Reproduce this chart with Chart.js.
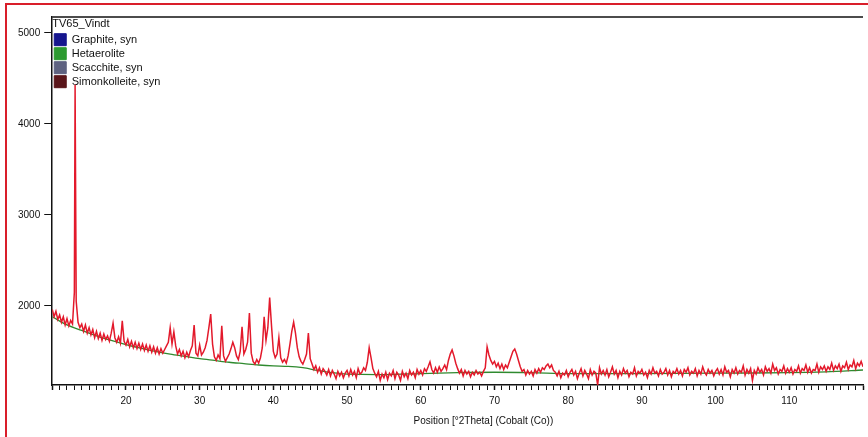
<!DOCTYPE html>
<html>
<head>
<meta charset="utf-8">
<script src="https://cdn.jsdelivr.net/npm/chart.js@4"></script>
<style>
 html,body{margin:0;padding:0;background:#fff;overflow:hidden}
 #wrap{position:relative;width:868px;height:437px}
 #frame{position:absolute;left:5px;top:3px;width:900px;height:500px;border-left:2px solid #d91e2a;border-top:2px solid #d91e2a}
 canvas{position:absolute;left:0;top:0}
</style>
</head>
<body>
<div id="wrap">
<div id="frame"></div>
<canvas id="xrd" width="868" height="437"></canvas>
</div>
<script>

const twoTheta = [
 10,10.25,10.5,10.75,11,11.25,11.5,11.75,12,12.25,12.5,12.75,13,13.1,13.25,13.5,13.75,14,14.25,14.5,14.75,
 15,15.25,15.5,15.75,16,16.25,16.5,16.75,17,17.25,17.5,17.75,18,18.25,18.5,18.75,19,19.25,19.5,19.75,
 20,20.25,20.5,20.75,21,21.25,21.5,21.75,22,22.25,22.5,22.75,23,23.25,23.5,23.75,24,24.25,24.5,24.75,
 25,25.25,25.5,25.75,26,26.25,26.5,26.75,27,27.25,27.5,27.75,28,28.25,28.5,28.75,29,29.25,29.5,29.75,
 30,30.25,30.5,30.75,31,31.25,31.5,31.75,32,32.25,32.5,32.75,33,33.25,33.5,33.75,34,34.25,34.5,34.75,
 35,35.25,35.5,35.75,36,36.25,36.5,36.75,37,37.25,37.5,37.75,38,38.25,38.5,38.75,39,39.25,39.5,39.75,
 40,40.25,40.5,40.75,41,41.25,41.5,41.75,42,42.25,42.5,42.75,43,43.25,43.5,43.75,44,44.25,44.5,44.75,
 45,45.25,45.5,45.75,46,46.25,46.5,46.75,47,47.25,47.5,47.75,48,48.25,48.5,48.75,49,49.25,49.5,49.75,
 50,50.25,50.5,50.75,51,51.25,51.5,51.75,52,52.25,52.5,52.75,53,53.25,53.5,53.75,54,54.25,54.5,54.75,
 55,55.25,55.5,55.75,56,56.25,56.5,56.75,57,57.25,57.5,57.75,58,58.25,58.5,58.75,59,59.25,59.5,59.75,
 60,60.25,60.5,60.75,61,61.25,61.5,61.75,62,62.25,62.5,62.75,63,63.25,63.5,63.75,64,64.25,64.5,64.75,
 65,65.25,65.5,65.75,66,66.25,66.5,66.75,67,67.25,67.5,67.75,68,68.25,68.5,68.75,69,69.25,69.5,69.75,
 70,70.25,70.5,70.75,71,71.25,71.5,71.75,72,72.25,72.5,72.75,73,73.25,73.5,73.75,74,74.25,74.5,74.75,
 75,75.25,75.5,75.75,76,76.25,76.5,76.75,77,77.25,77.5,77.75,78,78.25,78.5,78.75,79,79.25,79.5,79.75,
 80,80.25,80.5,80.75,81,81.25,81.5,81.75,82,82.25,82.5,82.75,83,83.25,83.5,83.75,84,84.25,84.5,84.75,
 85,85.25,85.5,85.75,86,86.25,86.5,86.75,87,87.25,87.5,87.75,88,88.25,88.5,88.75,89,89.25,89.5,89.75,
 90,90.25,90.5,90.75,91,91.25,91.5,91.75,92,92.25,92.5,92.75,93,93.25,93.5,93.75,94,94.25,94.5,94.75,
 95,95.25,95.5,95.75,96,96.25,96.5,96.75,97,97.25,97.5,97.75,98,98.25,98.5,98.75,99,99.25,99.5,99.75,
 100,100.25,100.5,100.75,101,101.25,101.5,101.75,102,102.25,102.5,102.75,103,103.25,103.5,103.75,104,104.25,104.5,104.75,
 105,105.25,105.5,105.75,106,106.25,106.5,106.75,107,107.25,107.5,107.75,108,108.25,108.5,108.75,109,109.25,109.5,109.75,
 110,110.25,110.5,110.75,111,111.25,111.5,111.75,112,112.25,112.5,112.75,113,113.25,113.5,113.75,114,114.25,114.5,114.75,
 115,115.25,115.5,115.75,116,116.25,116.5,116.75,117,117.25,117.5,117.75,118,118.25,118.5,118.75,119,119.25,119.5,119.75,
 120
]
const counts = [
 1960,1880,1940,1850,1900,1820,1880,1790,1860,1780,1840,1800,2150,4430,2050,1820,1760,1800,1720,1790,1700,
 1760,1680,1740,1650,1720,1640,1700,1620,1690,1630,1670,1610,1700,1810,1650,1600,1660,1590,1835,1610,
 1570,1630,1550,1610,1540,1600,1530,1590,1520,1580,1510,1570,1500,1560,1490,1550,1480,1540,1470,1530,
 1480,1520,1560,1600,1760,1580,1715,1560,1470,1520,1450,1500,1430,1490,1440,1510,1560,1790,1480,1450,
 1570,1460,1490,1540,1620,1760,1910,1580,1440,1400,1460,1420,1780,1450,1390,1430,1470,1530,1600,1540,
 1450,1410,1500,1770,1470,1520,1600,1920,1480,1390,1360,1410,1370,1430,1540,1880,1620,1760,2090,1780,
 1500,1430,1470,1650,1430,1380,1410,1370,1450,1580,1720,1820,1700,1540,1440,1390,1360,1410,1470,1700,
 1420,1360,1300,1340,1270,1320,1250,1310,1280,1240,1300,1230,1290,1250,1200,1280,1230,1270,1210,1260,
 1290,1230,1300,1240,1280,1210,1310,1250,1270,1320,1290,1380,1540,1430,1310,1260,1220,1280,1180,1250,
 1210,1270,1190,1260,1230,1290,1200,1270,1240,1180,1280,1220,1260,1200,1290,1240,1270,1210,1300,1250,
 1290,1240,1310,1280,1330,1385,1300,1260,1320,1270,1330,1280,1310,1350,1300,1400,1470,1515,1450,1370,
 1310,1260,1300,1230,1290,1250,1280,1220,1270,1240,1290,1250,1270,1230,1280,1320,1550,1460,1400,1360,
 1390,1330,1370,1310,1360,1300,1350,1320,1380,1440,1500,1525,1470,1400,1330,1280,1300,1240,1290,1250,
 1280,1230,1300,1260,1310,1270,1320,1300,1340,1360,1320,1350,1290,1270,1230,1280,1210,1260,1240,1290,
 1220,1270,1300,1240,1280,1200,1260,1310,1230,1290,1250,1200,1300,1240,1280,1260,1130,1320,1250,1290,
 1240,1300,1220,1270,1330,1250,1290,1210,1280,1240,1310,1260,1290,1220,1270,1250,1320,1230,1280,1260,
 1300,1240,1270,1210,1290,1250,1320,1260,1280,1230,1300,1250,1270,1310,1240,1290,1220,1280,1260,1310,
 1250,1290,1230,1300,1270,1320,1240,1280,1260,1310,1230,1290,1250,1330,1270,1240,1300,1260,1290,1230,
 1280,1310,1250,1300,1240,1330,1270,1290,1220,1300,1260,1320,1250,1290,1270,1340,1240,1300,1260,1310,
 1180,1290,1250,1320,1270,1300,1240,1330,1280,1310,1260,1360,1290,1320,1250,1300,1280,1340,1260,1310,
 1270,1320,1250,1300,1280,1340,1260,1310,1290,1350,1270,1320,1260,1300,1290,1360,1270,1330,1300,1340,
 1280,1330,1300,1370,1290,1340,1310,1360,1280,1340,1320,1380,1300,1350,1330,1400,1310,1370,1340,1390,
 1330
]

// fitted background
const bgTheta = [10,12,14,16,18,20,22,24,26,28,30,32,34,36,38,40,42,44,46,48,50,55,60,65,70,75,80,90,100,110,115,120]
const bgCounts = [1880,1790,1730,1670,1620,1575,1535,1500,1470,1445,1420,1400,1380,1365,1350,1340,1335,1320,1290,1265,1250,1245,1255,1265,1270,1265,1255,1255,1260,1265,1275,1295]

// identified phases, legend only
const sampleName = "TV65_Vindt"
const phaseNames = ["Graphite, syn","Hetaerolite","Scacchite, syn","Simonkolleite, syn"]
const phaseColors = ["#16168e","#2c9a30","#5e6280","#5a161a"]

const xTitle = "Position [°2Theta] (Cobalt (Co))"
const yTicks = [2000,3000,4000,5000]
const xLabels = [20,30,40,50,60,70,80,90,100,110]

const font = "'Liberation Sans', Arial, sans-serif"

const scanPoints = twoTheta.map((t,i)=>({x:t,y:counts[i]}))
const bgPoints = bgTheta.map((t,i)=>({x:t,y:bgCounts[i]}))

const datasets = [
 {label:"scan",data:scanPoints,borderColor:"#e3192b",borderWidth:1.5,pointRadius:0,tension:0},
 {label:"background",data:bgPoints,borderColor:"#2f8a2f",borderWidth:1.3,pointRadius:0,tension:0.3}
]
phaseNames.forEach((n,i)=>{
 datasets.push({label:n,data:[],backgroundColor:phaseColors[i],borderColor:phaseColors[i],borderWidth:1})
})

// top frame line and axis title
const extras = {
 id:"extras",
 afterDraw(chart){
  const c = chart.ctx, a = chart.chartArea
  c.save()
  c.strokeStyle = "#111"
  c.lineWidth = 1.5
  c.beginPath()
  c.moveTo(a.left,a.top)
  c.lineTo(a.right,a.top)
  c.stroke()
  c.fillStyle = "#111"
  c.font = "10px " + font
  c.textAlign = "center"
  c.textBaseline = "middle"
  c.fillText(xTitle, chart.scales.x.getPixelForValue(68.5), a.bottom + 36)
  c.restore()
 }
}

new Chart(document.getElementById("xrd"),{
 type:"line",
 data:{datasets:datasets},
 plugins:[extras],
 options:{
  responsive:false,
  animation:false,
  events:[],
  layout:{padding:{left:14,top:17,right:2,bottom:25}},
  plugins:{
   tooltip:{enabled:false},
   legend:{
    position:"chartArea",
    align:"start",
    title:{display:true,text:sampleName,position:"start",color:"#111",font:{family:font,size:11},padding:{top:18.5,bottom:0}},
    labels:{
     boxWidth:12,boxHeight:12,padding:2,color:"#111",
     font:{family:font,size:11},
     filter:item=>phaseNames.includes(item.text)
    }
   }
  },
  scales:{
   x:{
    type:"linear",
    min:10,max:120,
    afterBuildTicks:s=>{ s.ticks = s.ticks.filter(t=>Number.isInteger(t.value)) },
    ticks:{
     stepSize:1,autoSkip:false,maxRotation:0,padding:5,color:"#111",
     font:{family:font,size:10},
     callback:v=>xLabels.includes(v) ? String(v) : ""
    },
    grid:{drawOnChartArea:false,color:"#111",tickLength:5,
     tickWidth:c=>c.tick && c.tick.value % 10 === 0 ? 1.5 : 1},
    border:{color:"#111",width:1.5}
   },
   y:{
    min:1130,max:5175,
    afterBuildTicks:s=>{ s.ticks = yTicks.map(v=>({value:v})) },
    ticks:{padding:4,color:"#111",font:{family:font,size:10},callback:v=>String(v)},
    grid:{drawOnChartArea:false,color:"#111",tickLength:8},
    border:{color:"#111",width:1.5}
   }
  }
 }
})
</script>
</body>
</html>
